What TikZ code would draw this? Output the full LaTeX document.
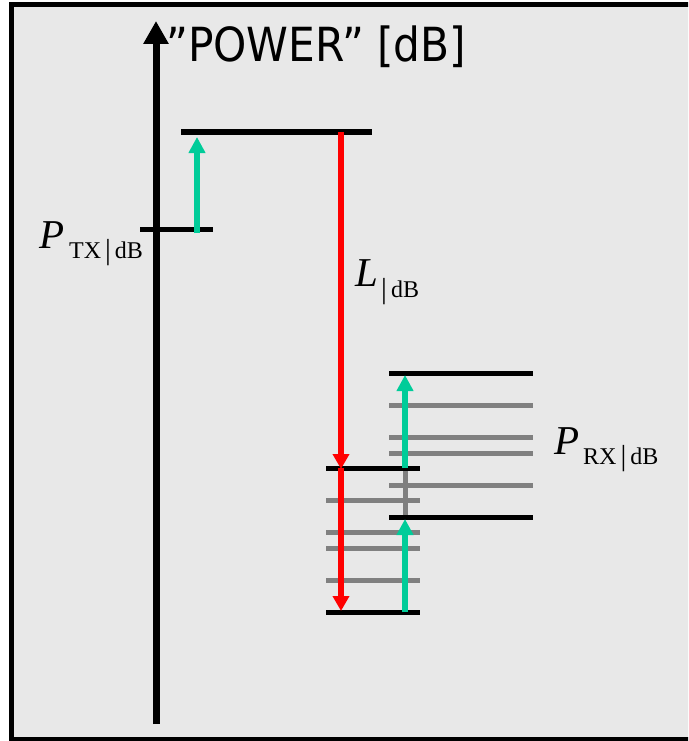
\documentclass[tikz,border=0pt]{standalone}
\usepackage{fontspec}
\setmainfont{Liberation Serif}
\newfontfamily\titlefont[FakeStretch=0.9]{DejaVu Sans}
\usetikzlibrary{arrows.meta}
\definecolor{bgfill}{HTML}{E8E8E8}
\definecolor{lvlgray}{HTML}{808080}
\definecolor{upgreen}{HTML}{00CC99}
\definecolor{downred}{HTML}{FF0000}
\newcommand{\subbar}{{\fontsize{29}{29}\selectfont\raisebox{-1pt}{|}}}
\tikzset{
  blacklevel/.style={line width=5pt, black},
  graylevel/.style={line width=5pt, lvlgray},
  lossarrow/.style={line width=6pt, downred, -{Triangle[length=15pt,width=16pt]}},
  gainarrow/.style={line width=6pt, upgreen, -{Triangle[length=16pt,width=16pt]}},
  axisarrow/.style={line width=7pt, black, -{Triangle[length=23pt,width=24pt]}},
  biglabel/.style={inner sep=0pt, anchor=base west, font=\fontsize{41}{45}\selectfont\itshape},
  sublabel/.style={inner sep=0pt, anchor=base west, font=\fontsize{24}{28}\selectfont},
}
\begin{document}
\begin{tikzpicture}[x=1pt,y=-1pt]
\useasboundingbox (0,0) rectangle (688,741);
\clip (0,0) rectangle (688,741);
% frame
\draw[line width=5pt, fill=bgfill] (11.5,4.5) rectangle (705,739.5);

% axis
\coordinate (axbot) at (156,724);
\coordinate (axtop) at (156,21);
\draw[axisarrow] (axbot) -- (axtop);
\node[inner sep=0pt, anchor=base west, font=\titlefont\fontsize{47}{52}\selectfont] (title) at (166,62) {”POWER” [dB]};

% level coordinates
\coordinate (topL) at (181,132);  \coordinate (topR) at (372,132);
\coordinate (txL) at (140,229);   \coordinate (txR) at (213,229);
\coordinate (midL) at (326,468);  \coordinate (midR) at (420,468);
\coordinate (botL) at (326,612);  \coordinate (botR) at (420,612);
\coordinate (rxtL) at (389,373);  \coordinate (rxtR) at (533,373);
\coordinate (rxbL) at (389,517);  \coordinate (rxbR) at (533,517);

% gray levels
\foreach \yy in {405,437,453,485} \draw[graylevel] (389,\yy) -- (533,\yy);
\foreach \yy in {500,532,548,580} \draw[graylevel] (326,\yy) -- (420,\yy);
\coordinate (gvtop) at (405,468);
\coordinate (gvbot) at (405,517);
\draw[graylevel] (gvtop) -- (gvbot);

% black levels
\draw[blacklevel] (topL) -- (topR);
\draw[blacklevel] (txL) -- (txR);
\draw[blacklevel] (midL) -- (midR);
\draw[blacklevel] (botL) -- (botR);
\draw[blacklevel] (rxtL) -- (rxtR);
\draw[blacklevel] (rxbL) -- (rxbR);

% arrows
\coordinate (r1s) at (341,132); \coordinate (r1e) at (341,469);
\coordinate (r2s) at (341,468); \coordinate (r2e) at (341,611);
\draw[lossarrow] (r1s) -- (r1e);
\draw[lossarrow] (r2s) -- (r2e);
\coordinate (g1s) at (197,233); \coordinate (g1e) at (197,137);
\coordinate (g2s) at (405,612); \coordinate (g2e) at (405,519);
\coordinate (g3s) at (405,468); \coordinate (g3e) at (405,375);
\draw[gainarrow] (g1s) -- (g1e);
\draw[gainarrow] (g2s) -- (g2e);
\draw[gainarrow] (g3s) -- (g3e);

% labels
\node[biglabel] (ptx) at (39,248) {P};
\node[sublabel] (ptxs) at (69,258) {TX\,\subbar\,dB};
\node[biglabel] (lloss) at (355,286) {L};
\node[sublabel] (llosss) at (381,297) {\subbar\,dB};
\node[biglabel] (prx) at (554,454) {P};
\node[sublabel] (prxs) at (583,464) {RX\,\subbar\,dB};
\end{tikzpicture}
\end{document}
